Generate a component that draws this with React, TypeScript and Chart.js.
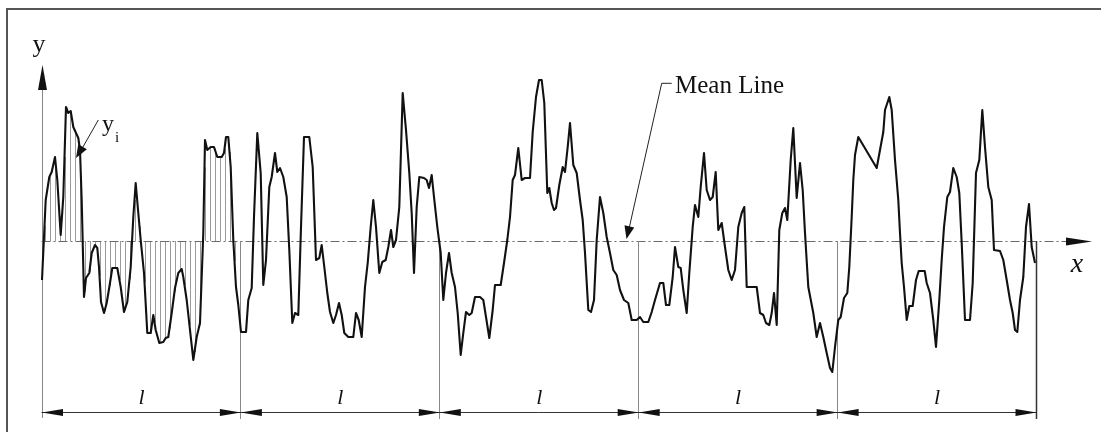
import React, { useEffect, useRef } from "react";
import { Chart, registerables } from "chart.js";

Chart.register(...registerables);

// Profile abscissa (sampling length units, one evaluation length l ≈ 198.9)
const profileX = [
  0.5, 4.2, 7.8, 10.2, 13.5, 15.8, 19.2, 21.8, 24.5, 26.8, 29.2, 31.8, 34.5, 36.8, 38.5, 40.2, 42.5, 44.5, 47.8, 50.2,
  53.5, 55.8, 57.5, 59.5, 62.5, 65.2, 68.5, 70.8, 75.8, 79.2, 82.5, 85.8, 89.2, 91.8, 94.2, 96.8, 99.2, 102.5, 105.8, 109.2,
  111.8, 114.2, 117.8, 121.8, 124.2, 126.8, 130.2, 133.5, 136.8, 140.2, 141.8, 145.2, 148.5, 151.8, 155.2, 158.5, 161.8, 163.5, 165.8, 169.2,
  172.5, 175.8, 180.2, 182.5, 184.5, 186.8, 189.2, 191.8, 194.5, 196.8, 199.5, 204.5, 206.8, 210.2, 212.5, 215.8, 219.2, 221.8, 224.5, 227.8,
  230.2, 233.5, 235.8, 238.5, 241.8, 245.2, 247.8, 250.8, 253.5, 256.8, 259.5, 262.5, 267.8, 271.2, 274.5, 277.8, 280.2, 282.8, 285.8, 288.5,
  291.8, 294.5, 297.5, 300.2, 302.8, 306.8, 311.8, 314.5, 317.2, 320.2, 323.5, 326.2, 329.2, 331.8, 334.5, 337.8, 340.8, 344.2, 346.8, 349.5,
  351.8, 354.5, 357.8, 361.2, 364.5, 367.8, 370.2, 372.5, 375.2, 377.8, 382.5, 385.2, 387.5, 390.2, 392.5, 395.8, 399.2, 401.8, 404.5, 407.5,
  410.2, 413.5, 416.2, 419.2, 421.8, 424.5, 427.8, 430.2, 433.5, 438.5, 441.8, 444.5, 447.8, 451.2, 453.5, 459.2, 462.5, 465.8, 468.5, 471.2,
  473.5, 476.8, 480.2, 483.5, 488.5, 491.2, 494.5, 497.5, 500.2, 502.8, 505.8, 507.8, 510.2, 512.5, 514.5, 517.8, 521.2, 523.5, 526.2, 528.5,
  531.8, 535.2, 538.5, 541.2, 543.5, 546.8, 549.5, 552.5, 555.2, 558.5, 561.8, 565.2, 568.5, 571.8, 575.2, 578.5, 582.5, 586.8, 590.2, 595.2,
  598.5, 601.8, 606.8, 610.2, 613.5, 618.5, 621.8, 624.5, 627.8, 631.2, 633.5, 636.8, 639.2, 641.8, 645.2, 647.8, 651.2, 653.5, 656.8, 659.2,
  662.5, 665.2, 668.5, 671.2, 674.2, 676.8, 680.2, 683.5, 686.8, 690.2, 693.5, 696.8, 700.2, 702.8, 705.2, 715.2, 718.5, 721.8, 724.5, 727.8,
  730.2, 732.5, 735.2, 737.8, 740.8, 743.5, 745.8, 749.2, 751.8, 755.2, 758.5, 761.2, 763.5, 766.8, 771.8, 775.2, 778.5, 781.8, 785.2, 788.5,
  790.8, 793.5, 796.8, 799.2, 802.5, 805.8, 807.8, 810.2, 811.8, 813.5, 816.8, 835.2, 841.8, 843.5, 847.8, 850.2, 853.5, 856.8, 858.5, 860.2,
  862.5, 865.2, 867.8, 871.2, 874.5, 877.2, 883.2, 885.2, 888.5, 891.8, 894.5, 897.8, 900.2, 902.5, 905.8, 908.5, 911.8, 915.2, 917.8, 920.2,
  923.5, 928.5, 931.2, 934.5, 937.8, 940.8, 943.5, 946.8, 950.2, 952.5, 958.5, 961.8, 965.2, 968.5, 971.2, 973.5, 975.8, 978.5, 981.8, 984.5,
  987.5, 990.2, 993.5,
];

// Profile heights y_i measured from the mean line
const profileY = [
  -39, 41, 64, 69, 84, 61, 6, 44, 134, 128, 130, 114, 108, 103, 91, 41, -56, -37, -32, -12,
  -4, -7, -26, -61, -72, -62, -42, -27, -27, -46, -71, -61, -26, 24, 58, 28, 1, -32, -92, -92,
  -74, -89, -102, -101, -97, -96, -72, -47, -32, -28, -36, -59, -89, -119, -96, -82, 8, 101, 91, 94,
  94, 84, 84, 88, 104, 104, 74, 1, -46, -64, -91, -91, -59, -47, 24, 108, 68, -44, -19, 54,
  64, 88, 69, 73, 64, 44, -9, -82, -72, -74, 14, 104, 104, 74, -19, -17, -4, -26, -52, -71,
  -82, -74, -62, -74, -92, -96, -96, -72, -79, -96, -46, -22, 14, 41, 14, -32, -21, -19, -6, 11,
  -6, 1, 34, 148, 111, 68, 28, -32, 34, 64, 63, 61, 53, 66, 44, 14, -12, -59, -32, -12,
  -32, -46, -72, -114, -92, -71, -74, -72, -56, -56, -59, -76, -97, -69, -44, -44, -22, 1, 24, 61,
  66, 93, 61, 63, 63, 109, 144, 161, 161, 138, 48, 53, 38, 31, 33, 56, 74, 69, 94, 118,
  76, 68, 41, 21, -12, -69, -71, -59, 1, 44, 28, 4, -12, -29, -34, -49, -59, -62, -79, -79,
  -76, -81, -81, -71, -59, -42, -42, -64, -64, -36, -6, -26, -27, -49, -72, -32, 14, 36, 24, 54,
  88, 51, 41, 44, 69, 11, 18, -6, -29, -39, -29, 14, 28, 34, -46, -46, -72, -74, -82, -84,
  -72, -52, -84, 11, 28, 33, 21, 81, 113, 43, 78, 51, 8, -46, -72, -96, -82, -96, -112, -127,
  -131, -106, -79, -76, -57, -52, -26, 24, 61, 86, 104, 73, 109, 131, 144, 131, 81, 41, 8, -22,
  -46, -79, -65, -65, -39, -30, -30, -42, -52, -79, -106, -59, -19, 14, 44, 49, 73, 64, 48, -2,
  -79, -79, -42, 68, 81, 131, 94, 54, 41, -9, -10, -19, -39, -59, -72, -89, -91, -59, -36, 14,
  37, -6, -22,
];

const segmentLength = 198.9;
const segmentLabels = ["l", "l", "l", "l", "l"];
const yAxisLabel = "y";
const xAxisLabel = "x";
const meanLineLabel = "Mean Line";
const ordinateLabel = ["y", "i"];

const SERIF = '"Liberation Serif", "DejaVu Serif", "Times New Roman", serif';

function profileAt(x: number): number {
  for (let i = 0; i < profileX.length - 1; i++) {
    if (x >= profileX[i] && x <= profileX[i + 1]) {
      const t = (x - profileX[i]) / (profileX[i + 1] - profileX[i]);
      return profileY[i] + t * (profileY[i + 1] - profileY[i]);
    }
  }
  return x < profileX[0] ? profileY[0] : profileY[profileY.length - 1];
}

function arrowHead(
  ctx: CanvasRenderingContext2D,
  tipX: number,
  tipY: number,
  fromX: number,
  fromY: number,
  len: number,
  halfW: number
) {
  const dx = tipX - fromX;
  const dy = tipY - fromY;
  const d = Math.hypot(dx, dy) || 1;
  const ux = dx / d;
  const uy = dy / d;
  const bx = tipX - ux * len;
  const by = tipY - uy * len;
  ctx.beginPath();
  ctx.moveTo(tipX, tipY);
  ctx.lineTo(bx - uy * halfW, by + ux * halfW);
  ctx.lineTo(bx + uy * halfW, by - ux * halfW);
  ctx.closePath();
  ctx.fill();
}

const decorPlugin = {
  id: "roughnessDecor",
  beforeDatasetsDraw(chart: any) {
    const { ctx } = chart;
    const xs = chart.scales.x;
    const ys = chart.scales.y;
    const X = (v: number) => xs.getPixelForValue(v);
    const Y = (v: number) => ys.getPixelForValue(v);
    const total = segmentLength * segmentLabels.length;
    ctx.save();

    // frame
    ctx.strokeStyle = "#555";
    ctx.lineWidth = 2;
    ctx.beginPath();
    ctx.moveTo(7, chart.height);
    ctx.lineTo(7, 9);
    ctx.lineTo(chart.width, 9);
    ctx.stroke();

    // hatching of the first sampling length
    ctx.strokeStyle = "#9a9a9a";
    ctx.lineWidth = 1;
    for (let hx = 3; hx < segmentLength - 1; hx += 5) {
      const px = Math.round(X(hx)) + 0.5;
      ctx.beginPath();
      ctx.moveTo(px, Y(0));
      ctx.lineTo(px, Y(profileAt(hx)));
      ctx.stroke();
    }

    // mean line (dash-dot) with arrow
    ctx.strokeStyle = "#6a6a6a";
    ctx.lineWidth = 1;
    ctx.setLineDash([9, 3, 2, 3]);
    ctx.beginPath();
    ctx.moveTo(X(0), Math.round(Y(0)) + 0.5);
    ctx.lineTo(X(total + 30), Math.round(Y(0)) + 0.5);
    ctx.stroke();
    ctx.setLineDash([]);
    ctx.fillStyle = "#111";
    arrowHead(ctx, X(total + 56), Math.round(Y(0)) + 0.5, X(total + 20), Math.round(Y(0)) + 0.5, 26, 4);

    // y axis with arrow
    ctx.strokeStyle = "#888";
    ctx.beginPath();
    ctx.moveTo(Math.round(X(0)) + 0.5, Y(-177));
    ctx.lineTo(Math.round(X(0)) + 0.5, Y(155));
    ctx.stroke();
    arrowHead(ctx, Math.round(X(0)) + 0.5, Y(176), Math.round(X(0)) + 0.5, Y(140), 25, 4.5);

    // sampling length boundaries
    for (let k = 1; k <= segmentLabels.length; k++) {
      const px = Math.round(X(k * segmentLength)) + 0.5;
      ctx.strokeStyle = k === segmentLabels.length ? "#333" : "#888";
      ctx.lineWidth = k === segmentLabels.length ? 1.5 : 1;
      ctx.beginPath();
      ctx.moveTo(px, Y(0));
      ctx.lineTo(px, Y(-178));
      ctx.stroke();
    }
    ctx.restore();
  },
  afterDatasetsDraw(chart: any) {
    const { ctx } = chart;
    const xs = chart.scales.x;
    const ys = chart.scales.y;
    const X = (v: number) => xs.getPixelForValue(v);
    const Y = (v: number) => ys.getPixelForValue(v);
    const total = segmentLength * segmentLabels.length;
    ctx.save();

    // dimension line with arrows and "l" labels
    const dimY = Math.round(Y(-170.7)) + 0.5;
    ctx.strokeStyle = "#333";
    ctx.lineWidth = 1;
    ctx.beginPath();
    ctx.moveTo(X(0), dimY);
    ctx.lineTo(X(total), dimY);
    ctx.stroke();
    ctx.fillStyle = "#111";
    ctx.font = `italic 22px ${SERIF}`;
    ctx.textAlign = "center";
    ctx.textBaseline = "alphabetic";
    segmentLabels.forEach((lab, k) => {
      const a = X(k * segmentLength) + 0.5;
      const b = X((k + 1) * segmentLength) + 0.5;
      arrowHead(ctx, a, dimY, a + 20, dimY, 21, 3.5);
      arrowHead(ctx, b, dimY, b - 20, dimY, 21, 3.5);
      ctx.fillText(lab, (a + b) / 2, Y(-163));
    });

    // axis labels
    ctx.font = `26px ${SERIF}`;
    ctx.fillText(yAxisLabel, X(-2.5), Y(189));
    ctx.font = `italic 28px ${SERIF}`;
    ctx.fillText(xAxisLabel, X(total + 41), Y(-31));

    // y_i annotation
    ctx.strokeStyle = "#222";
    ctx.lineWidth = 1;
    ctx.beginPath();
    ctx.moveTo(X(56.8), Y(121));
    ctx.lineTo(X(38), Y(88));
    ctx.stroke();
    arrowHead(ctx, X(34.5), Y(83), X(56.8), Y(121), 13, 5);
    ctx.textAlign = "left";
    ctx.font = `24px ${SERIF}`;
    ctx.fillText(ordinateLabel[0], X(60.5), Y(110));
    ctx.font = `15px ${SERIF}`;
    ctx.fillText(ordinateLabel[1], X(73.5), Y(99));

    // Mean Line annotation
    ctx.beginPath();
    ctx.moveTo(X(630.2), Y(157.7));
    ctx.lineTo(X(620.2), Y(157.7));
    ctx.lineTo(X(587), Y(10));
    ctx.stroke();
    arrowHead(ctx, X(585), Y(2), X(620.2), Y(157.7), 13, 5);
    ctx.font = `25px ${SERIF}`;
    ctx.fillText(meanLineLabel, X(633.5), Y(148));
    ctx.restore();
  },
};

export default function App() {
  const ref = useRef<HTMLCanvasElement | null>(null);
  useEffect(() => {
    if (!ref.current) return;
    const chart = new Chart(ref.current, {
      type: "line",
      data: {
        datasets: [
          {
            data: profileX.map((x, i) => ({ x, y: profileY[i] })),
            borderColor: "#111",
            borderWidth: 2.1,
            pointRadius: 0,
            tension: 0,
            fill: false,
            borderJoinStyle: "round",
          },
        ],
      },
      options: {
        animation: false,
        responsive: false,
        events: [],
        layout: { padding: 0 },
        plugins: { legend: { display: false }, tooltip: { enabled: false } },
        scales: {
          x: { type: "linear", min: -41.5, max: 1059.5, display: false },
          y: { type: "linear", min: -191, max: 241, display: false },
        },
      },
      plugins: [decorPlugin],
    } as any);
    return () => chart.destroy();
  }, []);
  return (
    <div style={{ position: "fixed", left: 0, top: 0, width: 1101, height: 432, background: "#fff" }}>
      <canvas ref={ref} width={1101} height={432} style={{ display: "block" }} />
    </div>
  );
}
